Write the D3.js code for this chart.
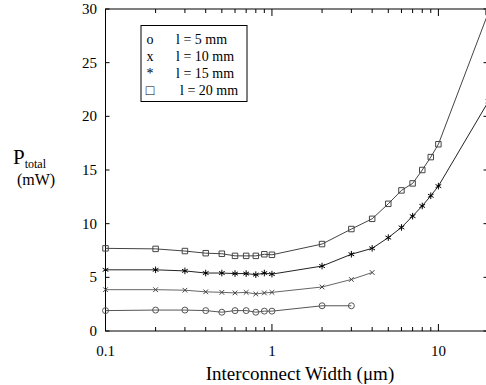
<!DOCTYPE html>
<html>
<head>
<meta charset="utf-8">
<script src="https://cdn.jsdelivr.net/npm/d3@7"></script>
<style>
  body { margin: 0; background: #fff; }
  svg { display: block; }
  svg text { font-family: "Liberation Serif", "Times New Roman", Times, serif; }
</style>
</head>
<body>
<svg id="chart" width="486" height="385"></svg>
<script>
// data
const widths = [0.1, 0.2, 0.3, 0.4, 0.5, 0.6, 0.7, 0.8, 0.9, 1, 2, 3, 4, 5, 6, 7, 8, 9, 10, 20];
const p5mm  = [1.9, 1.95, 1.95, 1.9, 1.75, 1.9, 1.9, 1.75, 1.85, 1.85, 2.35, 2.35];
const p10mm = [3.85, 3.85, 3.8, 3.65, 3.6, 3.55, 3.6, 3.45, 3.55, 3.6, 4.1, 4.8, 5.45];
const p15mm = [5.7, 5.7, 5.6, 5.4, 5.4, 5.35, 5.35, 5.25, 5.4, 5.3, 6.05, 7.15, 7.7, 8.7, 9.65, 10.7, 11.65, 12.6, 13.5, 21.4];
const p20mm = [7.7, 7.65, 7.45, 7.25, 7.2, 7.0, 7.0, 7.0, 7.15, 7.1, 8.1, 9.5, 10.45, 11.85, 13.1, 13.75, 15.0, 16.2, 17.4, 29.7];
const legendLabels = ["l = 5 mm", "l = 10 mm", "l = 15 mm", "l = 20 mm"];
const xTicks = [0.1, 1, 10];
const yTicks = [0, 5, 10, 15, 20, 25, 30];

const svg = d3.select("#chart");
const mLeft = 105.5, mRight = 488.5, mTop = 9, mBottom = 331;

const x = d3.scaleLog().domain([0.1, 20]).range([mLeft, mRight]);
const y = d3.scaleLinear().domain([0, 30]).range([mBottom, mTop]);

// frame
svg.append("rect")
    .attr("x", mLeft).attr("y", mTop)
    .attr("width", mRight - mLeft).attr("height", mBottom - mTop)
    .attr("fill", "none").attr("stroke", "#000").attr("stroke-width", 1);

// log ticks (major + minor), inward on bottom and top
const logTicks = [];
for (let d = 0.1; d < 20; d *= 10) {
    for (let k = 1; k <= 9; k++) {
        const v = +(d * k).toPrecision(3);
        if (v <= 20) logTicks.push(v);
    }
}
const tickG = svg.append("g").attr("stroke", "#000").attr("stroke-width", 1);
logTicks.forEach(v => {
    const major = xTicks.includes(v);
    const len = major ? 7 : 4;
    tickG.append("line").attr("x1", x(v)).attr("x2", x(v)).attr("y1", mBottom).attr("y2", mBottom - len);
    tickG.append("line").attr("x1", x(v)).attr("x2", x(v)).attr("y1", mTop).attr("y2", mTop + len);
});
yTicks.forEach(v => {
    tickG.append("line").attr("x1", mLeft).attr("x2", mLeft + 4).attr("y1", y(v)).attr("y2", y(v));
    tickG.append("line").attr("x1", mRight).attr("x2", mRight - 5).attr("y1", y(v)).attr("y2", y(v));
});

// tick labels
svg.append("g").selectAll("text").data(xTicks).join("text")
    .attr("x", d => x(d)).attr("y", 356)
    .attr("text-anchor", "middle").attr("font-size", 15)
    .text(d => d);
svg.append("g").selectAll("text").data(yTicks).join("text")
    .attr("x", 97).attr("y", d => y(d) + 5)
    .attr("text-anchor", "end").attr("font-size", 15)
    .text(d => d);

// axis titles
svg.append("text").attr("x", 300).attr("y", 380)
    .attr("text-anchor", "middle").attr("font-size", 19)
    .text("Interconnect Width (\u03bcm)");
const yl = svg.append("text").attr("x", 13).attr("y", 164).attr("font-size", 21);
yl.append("tspan").text("P");
yl.append("tspan").attr("dy", 4).attr("font-size", 12).text("total");
svg.append("text").attr("x", 36).attr("y", 185)
    .attr("text-anchor", "middle").attr("font-size", 16).text("(mW)");

// series
const series = [
    { vals: p5mm,  sym: d3.symbolCircle,   size: 28, stroke: "#555", line: "#555" },
    { vals: p10mm, sym: d3.symbolTimes,    size: 16, stroke: "#444", line: "#666" },
    { vals: p15mm, sym: d3.symbolAsterisk, size: 30, stroke: "#000", line: "#222" },
    { vals: p20mm, sym: d3.symbolSquare,   size: 30, stroke: "#444", line: "#444" }
];
const line = d3.line().x(d => x(d[0])).y(d => y(d[1]));

series.forEach(s => {
    const pts = s.vals.map((v, i) => [widths[i], v]);
    svg.append("path").datum(pts)
        .attr("d", line).attr("fill", "none")
        .attr("stroke", s.line).attr("stroke-width", 1);
    svg.append("g").selectAll("path").data(pts).join("path")
        .attr("transform", d => `translate(${x(d[0])},${y(d[1])})`)
        .attr("d", d3.symbol().type(s.sym).size(s.size))
        .attr("fill", "none").attr("stroke", s.stroke).attr("stroke-width", 1);
});

// legend
const lg = svg.append("g");
lg.append("rect").attr("x", 141).attr("y", 25.5).attr("width", 106).attr("height", 76)
    .attr("fill", "#fff").attr("stroke", "#000").attr("stroke-width", 1);
const legendMarks = ["o", "x", "*", "\u25a1"];
legendLabels.forEach((t, i) => {
    const yy = 44 + i * 17;
    lg.append("text").attr("x", 150).attr("y", yy).attr("text-anchor", "middle")
        .attr("font-size", 14).text(legendMarks[i]);
    lg.append("text").attr("x", i === 3 ? 180 : 176).attr("y", yy)
        .attr("font-size", 14).text(t);
});
</script>
</body>
</html>
